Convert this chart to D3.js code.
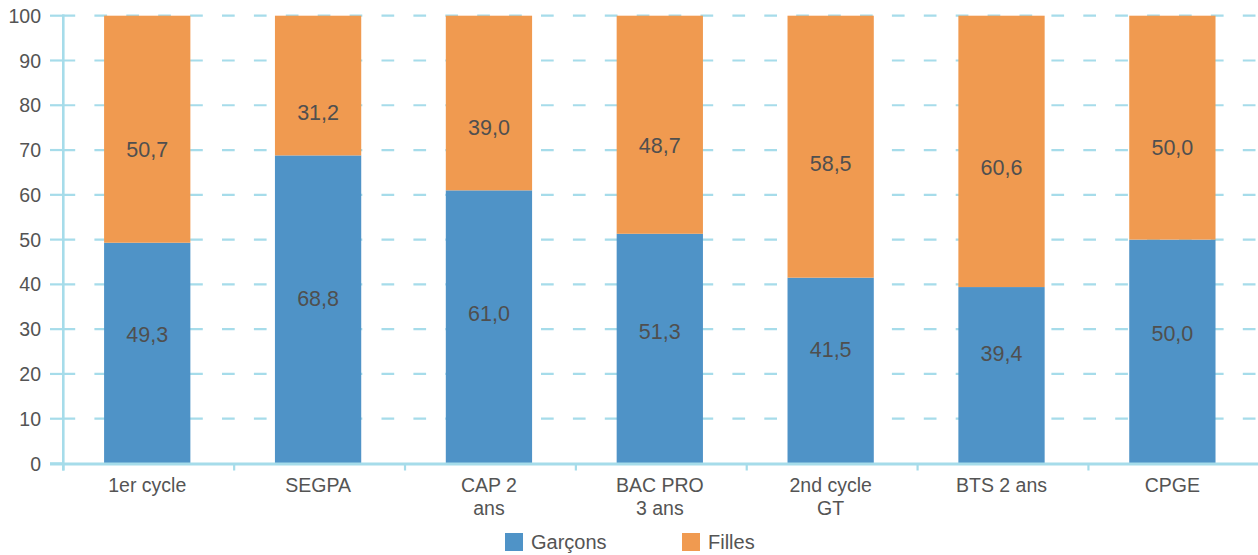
<!DOCTYPE html>
<html><head><meta charset="utf-8">
<script src="https://cdn.jsdelivr.net/npm/d3@7"></script>
<style>
body{margin:0;background:#fff;}
text{font-family:"Liberation Sans",Arial,Helvetica,sans-serif;}
</style></head>
<body><svg id="c" width="1258" height="555"></svg>
<script>
const categories = ["1er cycle","SEGPA","CAP 2\nans","BAC PRO\n3 ans","2nd cycle\nGT","BTS 2 ans","CPGE"];
const garcons = [49.3,68.8,61.0,51.3,41.5,39.4,50.0];
const filles  = [50.7,31.2,39.0,48.7,58.5,60.6,50.0];
const seriesNames = ["Garçons","Filles"];
const yTicks = [0,10,20,30,40,50,60,70,80,90,100];

const colors = {"Garçons":"#4f93c7","Filles":"#f09a50"};
const gridColor = "#a6dcea";
const textColor = "#545454";

const svg = d3.select("#c");
const x = d3.scaleBand().domain(categories).range([63.3,1259.3]).paddingInner(0.495).paddingOuter(0.2475);
const y = d3.scaleLinear().domain([0,100]).range([463.5,15.7]);
// label placement scale (labels are pulled toward the middle in the reference)
const labelPos = d3.scaleLinear().domain([0,100]).range([8.3,91.3]);

// gridlines
const grid = svg.append("g");
yTicks.forEach(t=>{
  grid.append("line").attr("x1",50).attr("x2",63.3).attr("y1",y(t)).attr("y2",y(t))
    .attr("stroke",gridColor).attr("stroke-width",2.2);
  if(t>0) grid.append("line").attr("x1",62.5).attr("x2",1258).attr("y1",y(t)).attr("y2",y(t))
    .attr("stroke",gridColor).attr("stroke-width",2.2).attr("stroke-dasharray","12.7,19.2");
});

// stacked data
const data = categories.map((c,i)=>({cat:c,"Garçons":garcons[i],"Filles":filles[i]}));
const stack = d3.stack().keys(seriesNames)(data);
const bx = -1.5;
stack.forEach(layer=>{
  const g = svg.append("g");
  g.selectAll("rect").data(layer).join("rect")
    .attr("x",d=>x(d.data.cat)+bx).attr("width",x.bandwidth())
    .attr("y",d=>y(d[1])).attr("height",d=>y(d[0])-y(d[1]))
    .attr("fill",colors[layer.key]);
  g.selectAll("text").data(layer).join("text")
    .attr("x",d=>x(d.data.cat)+bx+x.bandwidth()/2)
    .attr("y",d=>y(labelPos((d[0]+d[1])/2)))
    .attr("dy","0.36em").attr("text-anchor","middle")
    .attr("font-size",21.5).attr("fill","#4f4f4f")
    .text(d=>d3.format(".1f")(d[1]-d[0]).replace(".",","));
});

// y axis
const yAxis = svg.append("g");
yAxis.append("line").attr("x1",63.3).attr("x2",63.3).attr("y1",14.5).attr("y2",470.5)
  .attr("stroke",gridColor).attr("stroke-width",2.6);
yAxis.selectAll("text").data(yTicks).join("text")
  .attr("x",41).attr("y",d=>y(d)).attr("dy","0.36em").attr("text-anchor","end")
  .attr("font-size",19.5).attr("fill",textColor).text(d=>d);

// x axis
const xAxis = svg.append("g");
xAxis.append("line").attr("x1",50).attr("x2",1258).attr("y1",y(0)+0.5).attr("y2",y(0)+0.5)
  .attr("stroke",gridColor).attr("stroke-width",2.8);
const boundaries = categories.map(c=>x(c)-x.step()*x.paddingOuter());
xAxis.selectAll("line.tk").data(boundaries).join("line").attr("class","tk")
  .attr("x1",d=>d).attr("x2",d=>d).attr("y1",y(0)).attr("y2",470.5)
  .attr("stroke",gridColor).attr("stroke-width",2.2);
categories.forEach(c=>{
  const lines = c.split("\n");
  const t = xAxis.append("text").attr("text-anchor","middle").attr("font-size",19.5).attr("fill",textColor)
    .attr("x",x(c)+bx+x.bandwidth()/2).attr("y",492);
  lines.forEach((l,i)=>t.append("tspan").attr("x",x(c)+bx+x.bandwidth()/2).attr("dy",i?23:0).text(l));
});

// legend
const legendX = [505,682];
seriesNames.forEach((s,i)=>{
  const g = svg.append("g").attr("transform",`translate(${legendX[i]},533)`);
  g.append("rect").attr("width",18).attr("height",18).attr("fill",colors[s]);
  g.append("text").attr("x",26).attr("y",9).attr("dy","0.36em").attr("font-size",20).attr("fill",textColor).text(s);
});
</script></body></html>
